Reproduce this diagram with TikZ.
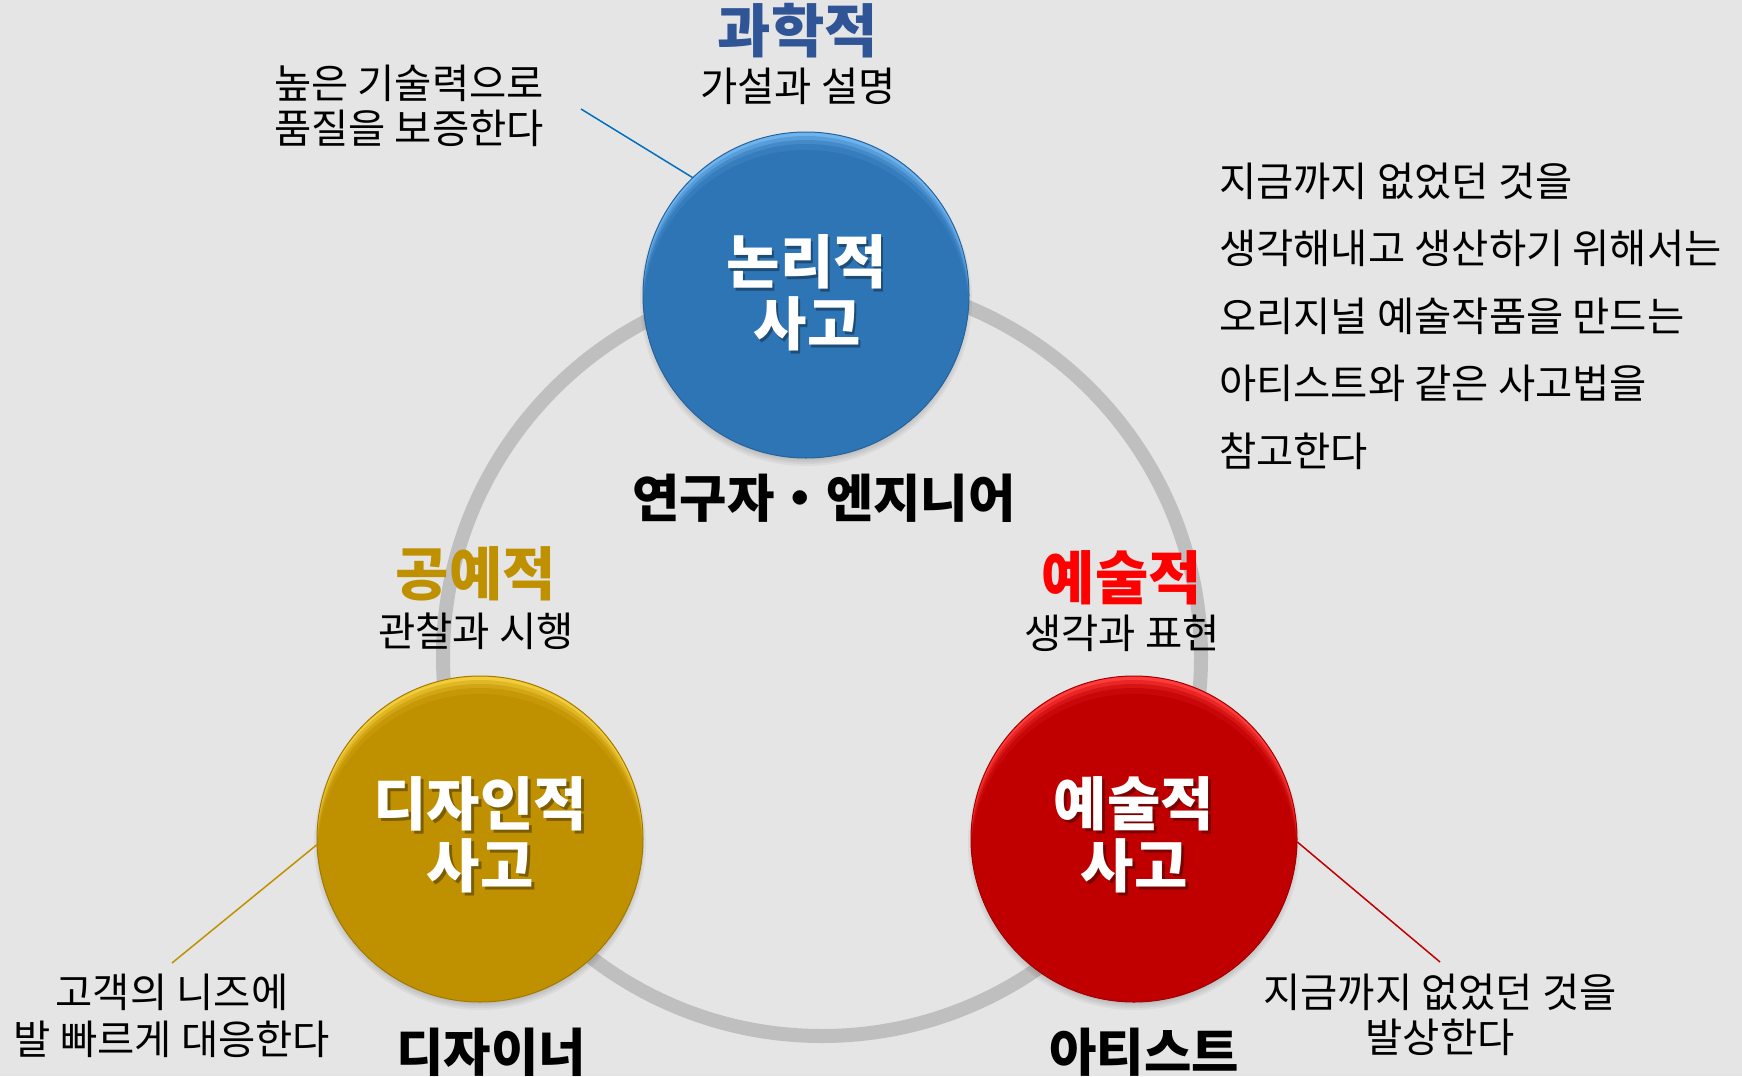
\documentclass[tikz,border=0pt]{standalone}
\usepackage{fontspec}
\setmainfont{Noto Sans CJK KR}
\definecolor{bg}{HTML}{E5E5E5}
\definecolor{ringc}{HTML}{BFBFBF}
\definecolor{bluec}{HTML}{2E75B6}
\definecolor{bluelt}{HTML}{6DB3EE}
\definecolor{goldc}{HTML}{BF9000}
\definecolor{goldlt}{HTML}{F2CC3A}
\definecolor{redc}{HTML}{C00000}
\definecolor{redlt}{HTML}{FF3B3B}
\definecolor{sciblue}{HTML}{2F5597}
\definecolor{artred}{HTML}{FF0000}
\definecolor{lineblue}{HTML}{0070C0}
\newcommand\drawbtn[4]{%
  \begin{scope}[shift={(#1,#2)}]
    \foreach \k in {0,...,5} \fill[black,opacity=0.045] (0,5) circle ({166pt-2pt*\k});
    \fill[#4] (0,0) circle (163pt);
    \begin{scope}
      \clip (0,0) circle (163pt);
      \fill[#3,opacity=0.35] (0,4) circle (163pt);
      \fill[#3,opacity=0.45] (0,8) circle (163pt);
      \fill[#3,opacity=0.6] (0,12) circle (163pt);
      \fill[#3] (0,18) circle (163pt);
    \end{scope}
    \draw[#3!85!black, line width=1pt] (0,0) circle (163pt);
  \end{scope}}
\tikzset{
  body/.style={inner sep=0pt, font=\fontsize{40.5}{45}\selectfont, text=black, align=center},
  ttl/.style={inner sep=0pt, font=\bfseries\fontsize{58}{62}\selectfont},
  btntext/.style={inner sep=0pt, font=\bfseries\fontsize{58}{62}\selectfont, align=center},
  role/.style={inner sep=0pt, font=\bfseries\fontsize{51.5}{55}\selectfont, text=black},
  lead/.style={line width=1.5pt},
  btnnode/.style={circle, minimum size=326pt, inner sep=0pt}
}
\begin{document}
\begin{tikzpicture}[x=1pt,y=-1pt]
  \useasboundingbox (0,0) rectangle (1742,1076);
  \fill[bg] (0,0) rectangle (1742,1076);
  % ring
  \draw[ringc, line width=14pt] (822,657) circle (379pt);
  % buttons
  \drawbtn{806}{295}{bluec}{bluelt}
  \drawbtn{480}{839}{goldc}{goldlt}
  \drawbtn{1134}{839}{redc}{redlt}
  \node[btnnode] (blue) at (806,295) {};
  \node[btnnode] (gold) at (480,839) {};
  \node[btnnode] (red) at (1134,839) {};
  % button texts (shadow + white)
  \node[btntext, text=black, opacity=0.35] at (809,295.5) {논리적\\사고};
  \node[btntext, text=white] (bluet) at (807,292.5) {논리적\\사고};
  \node[btntext, text=black, opacity=0.35] at (483,837.5) {디자인적\\사고};
  \node[btntext, text=white] (goldt) at (480,834.5) {디자인적\\사고};
  \node[btntext, text=black, opacity=0.35] at (1137,837.5) {예술적\\사고};
  \node[btntext, text=white] (redt) at (1134,834.5) {예술적\\사고};
  % titles
  \node[ttl, text=sciblue] (sci) at (798,31) {과학적};
  \node[body] (scis) at (798,86) {가설과 설명};
  \node[ttl, text=goldc] (craft) at (476,574) {공예적};
  \node[body] (crafts) at (476,631) {관찰과 시행};
  \node[ttl, text=artred] (art) at (1122,578) {예술적};
  \node[body] (arts) at (1122,633) {생각과 표현};
  % roles
  \node[role] (eng) at (824,498) {연구자・엔지니어};
  \node[role] (des) at (491,1052) {디자이너};
  \node[role] (artist) at (1144,1052) {아티스트};
  % notes
  \node[body] (nblue) at (409,105.5) {높은 기술력으로\\품질을 보증한다};
  \node[body, font=\fontsize{40.5}{47}\selectfont] (ngold) at (172,1015.5) {고객의 니즈에\\발 빠르게 대응한다};
  \node[body] (nred) at (1440,1014.5) {지금까지 없었던 것을\\발상한다};
  \node[body, align=left, anchor=west, font=\fontsize{40.5}{67.5}\selectfont] (block) at (1219,316)
    {지금까지 없었던 것을\\생각해내고 생산하기 위해서는\\오리지널 예술작품을 만드는\\아티스트와 같은 사고법을\\참고한다};
  % leader lines
  \coordinate (cb) at (581,109);
  \coordinate (cg) at (172,963);
  \coordinate (cr) at (1440,962);
  \draw[lead, lineblue] (cb) -- (blue.134.5);
  \draw[lead, goldc] (cg) -- (gold.182);
  \draw[lead, redc] (cr) -- (red.-1);
\end{tikzpicture}
\end{document}
